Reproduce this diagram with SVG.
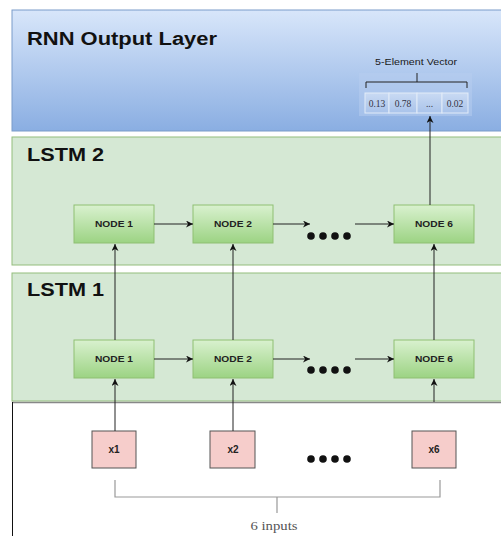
<svg xmlns="http://www.w3.org/2000/svg" width="501" height="536" viewBox="0 0 501 536">
<defs>
<linearGradient id="gBlue" x1="0" y1="0" x2="0" y2="1">
<stop offset="0" stop-color="#d8e6fa"/>
<stop offset="1" stop-color="#8aaee2"/>
</linearGradient>
<linearGradient id="gNode" x1="0" y1="0" x2="0" y2="1">
<stop offset="0" stop-color="#d9f1cf"/>
<stop offset="1" stop-color="#9cd383"/>
</linearGradient>
<linearGradient id="gCell" x1="0" y1="0" x2="0" y2="1">
<stop offset="0" stop-color="#c9daf3"/>
<stop offset="1" stop-color="#a9c3ea"/>
</linearGradient>
<marker id="arr" viewBox="0 0 10 10" refX="10" refY="5" markerWidth="7" markerHeight="7" orient="auto" markerUnits="userSpaceOnUse">
<path d="M0,0 L10,5 L0,10 L3,5 z" fill="#111"/>
</marker>
<style>
.title{font-family:"Liberation Sans",Arial,sans-serif;font-weight:bold;fill:#111}
.node rect{fill:url(#gNode);stroke:#8fbf73;stroke-width:1}
.node text{font-family:"Liberation Sans",Arial,sans-serif;font-weight:bold;font-size:8.5px;fill:#222;text-anchor:middle}
.inp rect{fill:#f6cdcb;stroke:#555;stroke-width:1}
.inp text{font-family:"Liberation Sans",Arial,sans-serif;font-weight:bold;font-size:10px;fill:#222;text-anchor:middle}
.edge{stroke:#222;stroke-width:1;fill:none}
.edgeA{stroke:#222;stroke-width:1;fill:none;marker-end:url(#arr)}
.brk{stroke:#999;stroke-width:1.2;fill:none}
.cell{fill:url(#gCell);stroke:#e2ebf8;stroke-width:1}
.cellt{font-family:"Liberation Serif","Times New Roman",serif;font-size:9.5px;fill:#334;text-anchor:middle}
</style>
</defs>
<rect width="501" height="536" fill="#ffffff"/>

<g id="panel-output">
<rect x="12" y="10" width="495" height="121" fill="url(#gBlue)" stroke="#7b9cc9" stroke-width="1"/>
<text class="title" x="27" y="45" font-size="17.5" textLength="190" lengthAdjust="spacingAndGlyphs">RNN Output Layer</text>
</g>
<g id="panel-lstm2">
<rect x="12" y="137" width="495" height="128" fill="#d5e8d4" stroke="#93bd7d" stroke-width="1"/>
<text class="title" x="27" y="161" font-size="19" textLength="77" lengthAdjust="spacingAndGlyphs">LSTM 2</text>
</g>
<g id="panel-lstm1">
<rect x="12" y="273" width="495" height="128" fill="#d5e8d4" stroke="#93bd7d" stroke-width="1"/>
<text class="title" x="27" y="296" font-size="19" textLength="77" lengthAdjust="spacingAndGlyphs">LSTM 1</text>
</g>
<g id="panel-input">
<line x1="12" y1="402.5" x2="501" y2="402.5" stroke="#888" stroke-width="1.5"/>
<line x1="12.5" y1="402" x2="12.5" y2="536" stroke="#111" stroke-width="1"/>
</g>

<g id="vector">
<rect x="359" y="73" width="113" height="43" fill="#b7cdef" opacity="0.5"/>
<text x="416" y="65" font-family="'Liberation Sans',Arial,sans-serif" font-size="9.5" fill="#1a1a1a" text-anchor="middle" textLength="82" lengthAdjust="spacingAndGlyphs">5-Element Vector</text>
<path class="edge" d="M366,88 V82 H467 V88 M417,73 V82" stroke="#555"/>
<rect class="cell" x="365" y="93" width="24" height="20"/>
<rect class="cell" x="389" y="93" width="28" height="20"/>
<rect class="cell" x="417" y="93" width="25" height="20"/>
<rect class="cell" x="442" y="93" width="26" height="20"/>
<text class="cellt" x="377" y="106.5">0.13</text>
<text class="cellt" x="403" y="106.5">0.78</text>
<text class="cellt" x="429.5" y="106.5">...</text>
<text class="cellt" x="455" y="106.5">0.02</text>
</g>

<g id="l2n1" class="node"><rect x="74" y="205" width="80" height="38"/><text x="114" y="227" textLength="38" lengthAdjust="spacingAndGlyphs">NODE 1</text></g>
<g id="l2n2" class="node"><rect x="193" y="205" width="80" height="38"/><text x="233" y="227" textLength="38" lengthAdjust="spacingAndGlyphs">NODE 2</text></g>
<g id="l2n6" class="node"><rect x="394" y="205" width="80" height="38"/><text x="434" y="227" textLength="38" lengthAdjust="spacingAndGlyphs">NODE 6</text></g>
<g id="l2dots" fill="#111"><circle cx="311" cy="236" r="3.8"/><circle cx="323" cy="236" r="3.8"/><circle cx="335" cy="236" r="3.8"/><circle cx="347" cy="236" r="3.8"/></g>

<g id="l1n1" class="node"><rect x="74" y="340" width="80" height="38"/><text x="114" y="362" textLength="38" lengthAdjust="spacingAndGlyphs">NODE 1</text></g>
<g id="l1n2" class="node"><rect x="193" y="340" width="80" height="38"/><text x="233" y="362" textLength="38" lengthAdjust="spacingAndGlyphs">NODE 2</text></g>
<g id="l1n6" class="node"><rect x="394" y="340" width="80" height="38"/><text x="434" y="362" textLength="38" lengthAdjust="spacingAndGlyphs">NODE 6</text></g>
<g id="l1dots" fill="#111"><circle cx="311" cy="370" r="3.8"/><circle cx="323" cy="370" r="3.8"/><circle cx="335" cy="370" r="3.8"/><circle cx="347" cy="370" r="3.8"/></g>

<g id="x1" class="inp"><rect x="92" y="431" width="44" height="37"/><text x="114" y="452.5">x1</text></g>
<g id="x2" class="inp"><rect x="210" y="431" width="45" height="37"/><text x="233" y="452.5">x2</text></g>
<g id="x6" class="inp"><rect x="412" y="431" width="44" height="37"/><text x="434" y="452.5">x6</text></g>
<g id="indots" fill="#111"><circle cx="311" cy="459" r="3.8"/><circle cx="323" cy="459" r="3.8"/><circle cx="335" cy="459" r="3.8"/><circle cx="347" cy="459" r="3.8"/></g>

<g id="bracket">
<path class="brk" d="M115,480 V497 H440 V480 M277,497 V513"/>
<text x="274" y="530" font-family="'Liberation Serif','Times New Roman',serif" font-size="12.5" fill="#555" text-anchor="middle" textLength="47" lengthAdjust="spacingAndGlyphs">6 inputs</text>
</g>

<g id="connectors">
<line class="edgeA" x1="154" y1="224" x2="193" y2="224"/>
<line class="edgeA" x1="273" y1="224" x2="310" y2="224"/>
<line class="edgeA" x1="355" y1="224" x2="394" y2="224"/>
<line class="edgeA" x1="154" y1="359" x2="193" y2="359"/>
<line class="edgeA" x1="273" y1="359" x2="310" y2="359"/>
<line class="edgeA" x1="355" y1="359" x2="394" y2="359"/>
<line class="edgeA" x1="115" y1="431" x2="115" y2="379"/>
<line class="edgeA" x1="233" y1="431" x2="233" y2="379"/>
<line class="edgeA" x1="434" y1="402" x2="434" y2="379"/>
<line class="edgeA" x1="115" y1="340" x2="115" y2="244"/>
<line class="edgeA" x1="233" y1="340" x2="233" y2="244"/>
<line class="edgeA" x1="434" y1="340" x2="434" y2="244"/>
<line class="edgeA" x1="430" y1="205" x2="430" y2="116"/>
</g>
</svg>
